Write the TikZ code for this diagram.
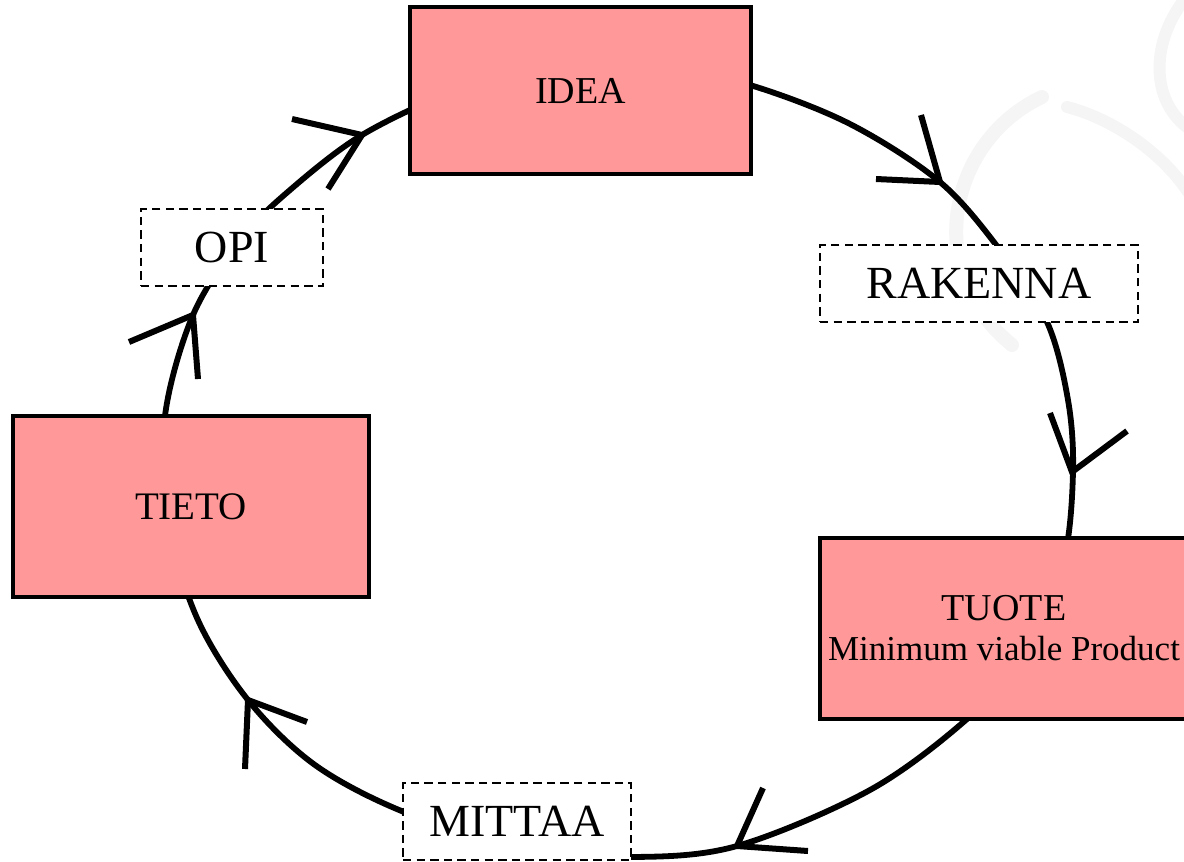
\documentclass[tikz,border=0pt]{standalone}
\usepackage{fontspec}
\setmainfont{Liberation Serif}
\definecolor{boxpink}{HTML}{FF9999}
\begin{document}
\begin{tikzpicture}[x=0.5pt,y=-0.5pt,
  loopline/.style={line width=2.9pt},
  headline/.style={line width=3pt, line join=miter},
  solidbox/.style={draw, line width=1.6pt, fill=boxpink, rectangle, inner sep=0pt, align=center},
  dashbox/.style={draw, line width=1.3pt, dash pattern=on 4.2pt off 2.6pt, fill=white, rectangle, inner sep=0pt},
  wm/.style={draw=black!4, line cap=round}]
\useasboundingbox (0,0) rectangle (1184,862);
% faint watermark
\draw[wm, line width=6pt] (1188,-5) .. controls (1150,40) and (1150,100) .. (1188,128);
\draw[wm, line width=7pt] (1042,97) .. controls (950,140) and (920,270) .. (1012,345);
\draw[wm, line width=6pt] (1067,107) .. controls (1110,118) and (1160,150) .. (1188,192);
% loop
\draw[loopline] plot[smooth cycle, tension=0.55] coordinates {
 (362,135) (455,91) (550,65) (650,63) (750,85) (850,124) (940,182) (1000,250)
 (1047,322) (1068,400) (1073,472) (1064,560) (1030,650) (967,719) (870,790)
 (737,846) (631,857) (520,848) (404,812) (315,765) (248,700) (197,618)
 (168,520) (165,416) (193,315) (240,240) (290,190)};
% boxes
\node[solidbox, minimum width=170.5pt, minimum height=83.5pt, font=\fontsize{19}{22}\selectfont] (idea) at (580.5,90.5) {IDEA};
\node[solidbox, minimum width=184pt, minimum height=90.5pt, font=\fontsize{19}{20}\selectfont] (tuote) at (1004,628.5)
  {TUOTE\\{\fontsize{17.5}{20}\selectfont Minimum viable Product}};
\node[solidbox, minimum width=178pt, minimum height=90.5pt, font=\fontsize{19.5}{22}\selectfont] (tieto) at (191,506.5) {TIETO};
\node[dashbox, minimum width=159pt, minimum height=38.5pt, font=\fontsize{23}{26}\selectfont] (rakenna) at (979,283.5) {RAKENNA};
\node[dashbox, minimum width=91pt, minimum height=38.5pt, font=\fontsize{23}{26}\selectfont] (opi) at (232,247.5) {OPI};
\node[dashbox, minimum width=114pt, minimum height=38.5pt, font=\fontsize{23}{26}\selectfont] (mittaa) at (517,821.5) {MITTAA};
% arrowheads
\coordinate (t1) at (362,135); \coordinate (a1) at (292,119); \coordinate (b1) at (328,189);
\coordinate (t2) at (940,182); \coordinate (a2) at (921,115); \coordinate (b2) at (876,179);
\coordinate (t3) at (1072,472); \coordinate (a3) at (1050,413); \coordinate (b3) at (1127,431);
\coordinate (t4) at (737,846); \coordinate (a4) at (763,788); \coordinate (b4) at (808,851);
\coordinate (t5) at (248,700); \coordinate (a5) at (245,769); \coordinate (b5) at (307,722);
\coordinate (t6) at (193,315); \coordinate (a6) at (129,342); \coordinate (b6) at (198,379);
\foreach \i in {1,...,6} {\draw[headline] (a\i) -- (t\i) -- (b\i);}
\end{tikzpicture}
\end{document}
